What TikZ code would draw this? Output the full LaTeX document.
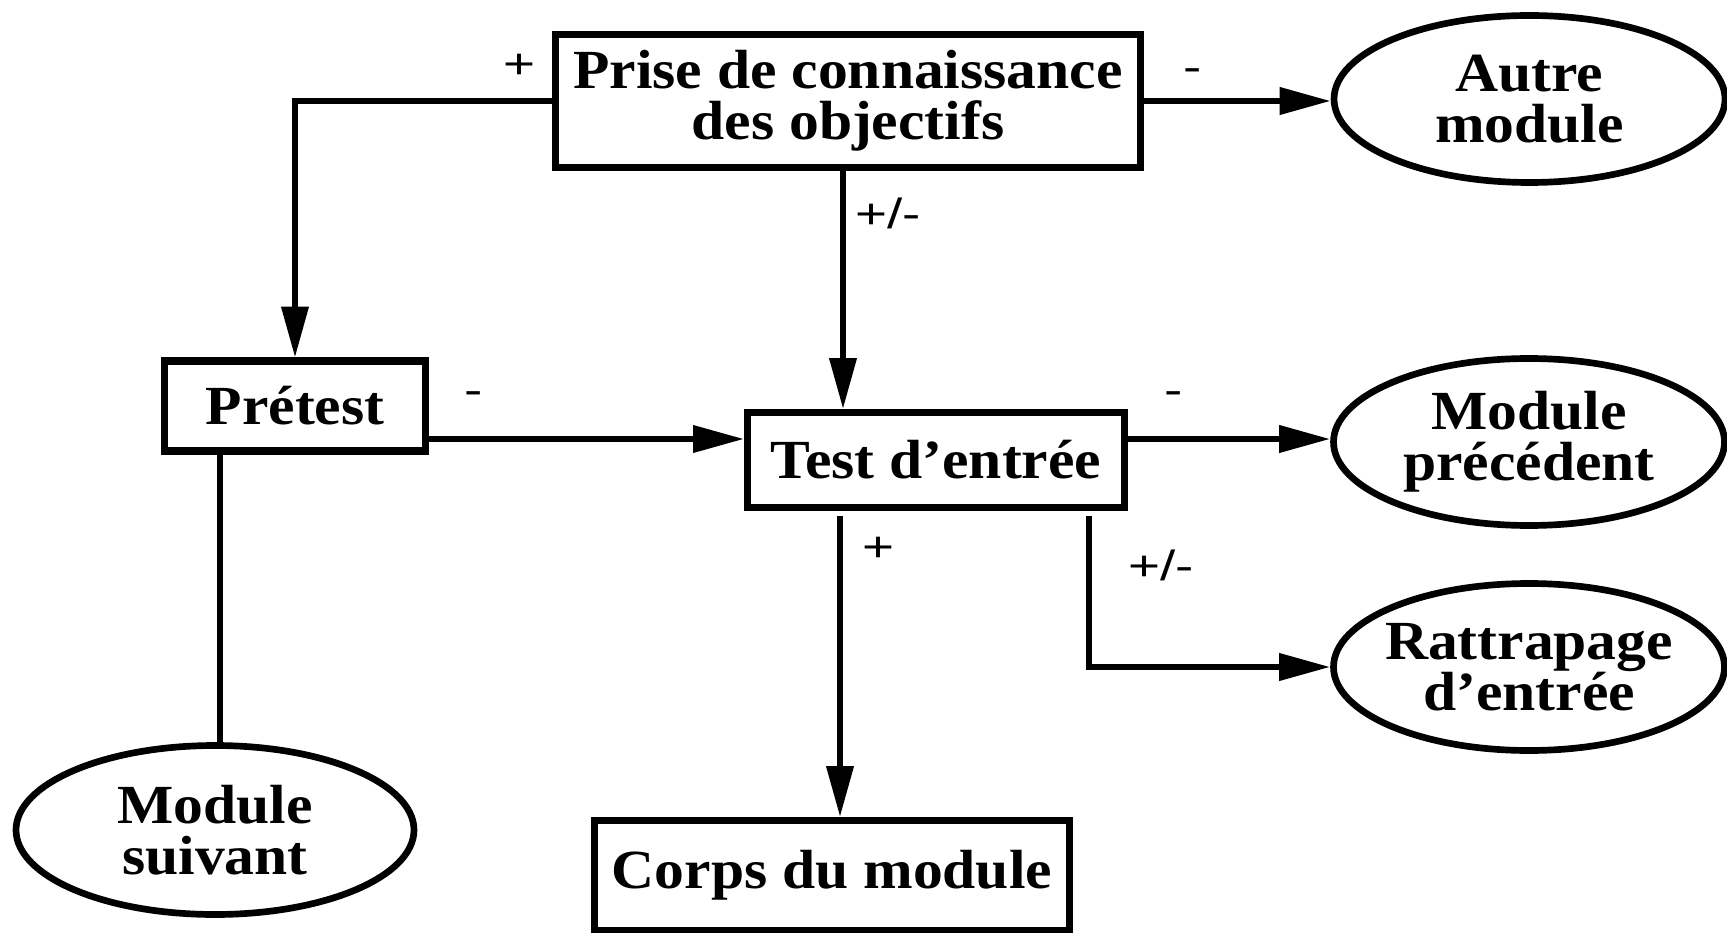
\documentclass[tikz,border=0pt]{standalone}
\usepackage{fontspec}
\usetikzlibrary{arrows.meta, shapes.geometric}
\newfontfamily\boxfont{Liberation Serif}[FakeStretch=1.08]
\newfontfamily\signfont{Liberation Sans}[FakeStretch=1.3]

\tikzset{
    etape/.style={draw, line width=2pt, rectangle, inner sep=0pt, align=center,
        font=\boxfont\bfseries\fontsize{15.7}{14.5}\selectfont},
    issue/.style={draw, line width=1.9pt, ellipse, inner sep=0pt, inner xsep=-0.3cm, align=center,
        minimum width=3.91cm, minimum height=1.67cm,
        font=\boxfont\bfseries\fontsize{15.7}{14.5}\selectfont},
    signe/.style={inner sep=0pt, font=\signfont\fontsize{12}{12}\selectfont},
    fleche/.style={line width=1.7pt, -{Triangle[length=14.5pt, width=7.5pt]}},
    trait/.style={line width=1.7pt}
}

\begin{document}
\begin{tikzpicture}
        \useasboundingbox (0,0) rectangle (17.27,9.32);

        \node[etape, minimum width=5.85cm, minimum height=1.33cm] (prise) at (8.48,8.31) {Prise de connaissance\\des objectifs};
        \node[etape, minimum width=2.61cm, minimum height=0.90cm] (pretest) at (2.95,5.26) {Prétest};
        \node[etape, minimum width=3.77cm, minimum height=0.95cm] (test) at (9.36,4.72) {Test d’entrée};
        \node[etape, minimum width=4.75cm, minimum height=1.10cm] (corps) at (8.32,0.565) {Corps du module};

        \node[issue] (autre) at (15.295,8.33) {Autre\\module};
        \node[issue] (precedent) at (15.29,4.90) {Module\\précédent};
        \node[issue] (rattrapage) at (15.29,2.65) {Rattrapage\\d’entrée};
        \node[issue, minimum width=3.98cm, minimum height=1.69cm] (suivant) at (2.15,1.02) {Module\\suivant};

        \draw[fleche] (prise.west) -| (pretest.north);
        \draw[fleche] (prise.east) -- (prise.east -| autre.west);
        \draw[fleche] (prise.south -| 8.43,0) -- (test.north -| 8.43,0);
        \draw[fleche] (pretest.east |- 0,4.93) -- (test.west |- 0,4.93);
        \draw[fleche] (test.east |- 0,4.93) -- (precedent.west |- 0,4.93);
        \draw[fleche] ([yshift=-1.5pt]test.south -| 8.40,0) -- (corps.north -| 8.40,0);
        \draw[fleche] ([yshift=-1.5pt]test.south -| 10.89,0) |- (rattrapage.west);
        \draw[trait] (pretest.south -| 2.20,0) -- (suivant.north -| 2.20,0);

        \node[signe] (s1) at (5.20,8.66) {+};
        \node[signe] (s2) at (11.93,8.57) {-};
        \node[signe] (s3) at (8.88,7.19) {+/-};
        \node[signe] (s4) at (4.74,5.34) {-};
        \node[signe] (s5) at (11.74,5.34) {-};
        \node[signe] (s6) at (8.78,3.83) {+};
        \node[signe] (s7) at (11.61,3.67) {+/-};
    \end{tikzpicture}
\end{document}
